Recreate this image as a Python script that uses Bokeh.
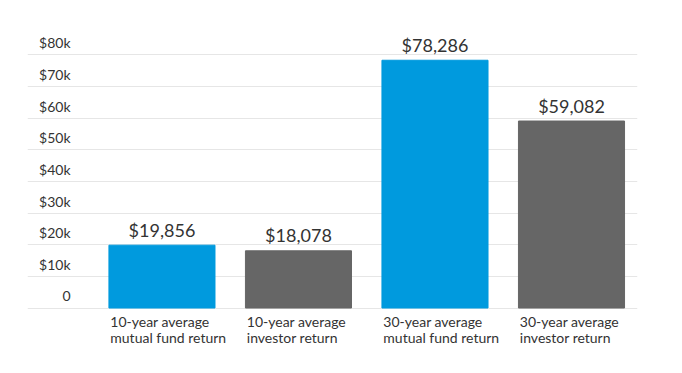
from bokeh.plotting import figure
from bokeh.models import Range1d, Grid, FixedTicker, ColumnDataSource
from bokeh.core.properties import value
from bokeh.embed import file_html
from bokeh.resources import INLINE

categories = ["10-year average\nmutual fund return", "10-year average\ninvestor return",
              "30-year average\nmutual fund return", "30-year average\ninvestor return"]
values = [19856, 18078, 78286, 59082]
value_labels = ["$19,856", "$18,078", "$78,286", "$59,082"]
tick_values = [0, 10000, 20000, 30000, 40000, 50000, 60000, 70000, 80000]
tick_labels = ["0", "$10k", "$20k", "$30k", "$40k", "$50k", "$60k", "$70k", "$80k"]

colors = ["#009ADE", "#666666", "#009ADE", "#666666"]
FONT = value("Lato")
TEXT = "#333333"
BAR_W = 0.777

idx = list(range(len(values)))

p = figure(width=674, height=365, output_backend="svg", toolbar_location=None,
           x_axis_type=None, y_axis_type=None,
           x_range=Range1d(-0.985, 3.4835), y_range=Range1d(-15000, 88000),
           min_border_left=27, min_border_right=37, min_border_top=29, min_border_bottom=10)
p.outline_line_color = None
p.background_fill_color = "white"
p.border_fill_color = "white"

grid = Grid(dimension=1, ticker=FixedTicker(ticks=tick_values),
            grid_line_color="#e6e6e6", grid_line_width=1)
p.add_layout(grid)

src = ColumnDataSource(dict(x=idx, top=values, color=colors, label=value_labels,
                            cat=categories, left=[i - BAR_W / 2 + 0.01 for i in idx]))

p.vbar(x="x", top="top", width=BAR_W, color="color", source=src)

p.text(x="x", y="top", text="label", source=src, text_align="center",
       text_baseline="alphabetic", y_offset=-15.5, text_font=FONT,
       text_font_size="18px", text_color=TEXT)

p.text(x="left", y=0, text="cat", source=src, text_align="left",
       text_baseline="top", y_offset=5, text_font=FONT, text_font_size="14px",
       text_color=TEXT, text_line_height=0.95)

p.text(x=[-0.67] * len(tick_values), y=tick_values, text=tick_labels,
       text_align="right", text_baseline="alphabetic", y_offset=-12,
       text_font=FONT, text_font_size="14px", text_color=TEXT)

open("out.html", "w").write(file_html(p, INLINE))
